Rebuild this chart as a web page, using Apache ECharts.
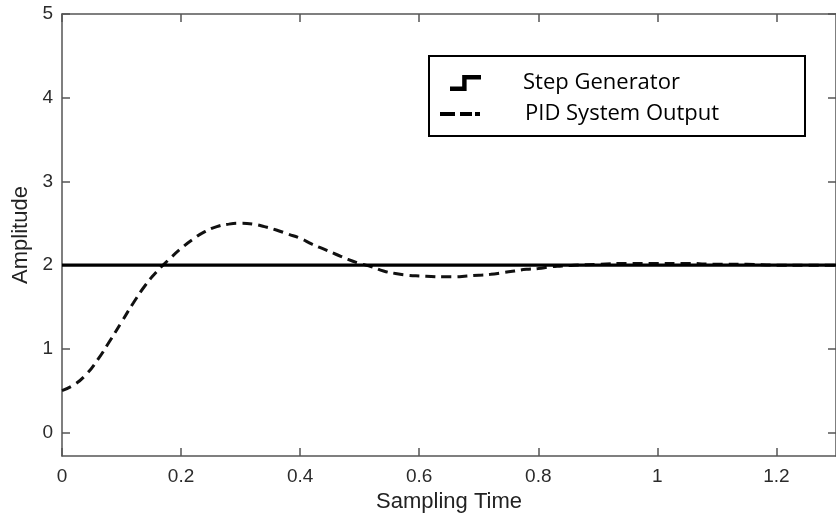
<!DOCTYPE html>
<html>
<head>
<meta charset="utf-8">
<title>PID response</title>
<script src="https://cdn.jsdelivr.net/npm/echarts@6/dist/echarts.min.js"></script>
<style>
  html, body { margin: 0; padding: 0; background: #fff; }
  #main { width: 836px; height: 524px; }
</style>
</head>
<body>
<div id="main"></div>
<script>
// values
var seriesNames = ['Step Generator', 'PID System Output'];
var stepTimes = [0, 1.3];
var stepValues = [2, 2];
var pidTimes = [0, 0.02, 0.04, 0.06, 0.08, 0.10, 0.12, 0.14, 0.16, 0.18,
                0.20, 0.22, 0.24, 0.26, 0.28, 0.30, 0.32, 0.34, 0.36, 0.38,
                0.40, 0.42, 0.44, 0.46, 0.48, 0.50, 0.52, 0.54, 0.56, 0.58,
                0.60, 0.62, 0.64, 0.66, 0.68, 0.70, 0.72, 0.74, 0.76, 0.78,
                0.80, 0.82, 0.84, 0.86, 0.90, 0.95, 1.00, 1.05, 1.10, 1.15,
                1.20, 1.25, 1.30];
var pidValues = [0.50, 0.57, 0.69, 0.87, 1.09, 1.32, 1.55, 1.76, 1.93, 2.07,
                 2.20, 2.31, 2.40, 2.46, 2.49, 2.50, 2.49, 2.46, 2.42, 2.37,
                 2.32, 2.25, 2.19, 2.13, 2.07, 2.02, 1.98, 1.93, 1.90, 1.88,
                 1.87, 1.865, 1.86, 1.86, 1.87, 1.88, 1.89, 1.91, 1.93, 1.95,
                 1.96, 1.98, 1.99, 2.00, 2.01, 2.02, 2.02, 2.02, 2.01, 2.01,
                 2.00, 2.00, 2.00];
var xTicks = [0, 0.2, 0.4, 0.6, 0.8, 1, 1.2];
var yTicks = [0, 1, 2, 3, 4, 5];

function pairs(xs, ys) {
    var out = [];
    for (var i = 0; i < xs.length; i++) {
        out.push([xs[i], ys[i]]);
    }
    return out;
}

var axisColor = '#555';
var labelColor = '#2b2b2b';
var stepIcon = 'path://M0,10H11V0H28V4H15V14H0Z';
var dashIcon = 'path://M0,0H15V4H0Z M20,0H32V4H20Z M35,0H40V4H35Z';

function xAxisCfg(pos, showLabel) {
    return {
        type: 'value',
        position: pos,
        min: 0,
        max: 1.3,
        name: showLabel ? 'Sampling Time' : '',
        nameLocation: 'middle',
        nameGap: 24,
        nameTextStyle: { fontFamily: 'Liberation Sans', fontSize: 22, color: '#222' },
        axisLine: { show: true, onZero: false, lineStyle: { color: axisColor, width: 1.5 } },
        axisTick: { show: true, inside: true, length: 8, customValues: xTicks,
                    lineStyle: { color: axisColor, width: 1.5 } },
        axisLabel: { show: showLabel, customValues: xTicks, margin: 11,
                     fontFamily: 'Liberation Sans', fontSize: 19, color: labelColor },
        splitLine: { show: false }
    };
}

function yAxisCfg(pos, showLabel) {
    return {
        type: 'value',
        position: pos,
        min: -0.28,
        max: 5,
        name: showLabel ? 'Amplitude' : '',
        nameLocation: 'middle',
        nameGap: 30,
        nameTextStyle: { fontFamily: 'Liberation Sans', fontSize: 22, color: '#222' },
        axisLine: { show: true, onZero: false, lineStyle: { color: axisColor, width: 1.5 } },
        axisTick: { show: true, inside: true, length: 8, customValues: yTicks,
                    lineStyle: { color: axisColor, width: 1.5 } },
        axisLabel: { show: showLabel, customValues: yTicks, margin: 9,
                     fontFamily: 'Liberation Sans', fontSize: 19, color: labelColor },
        splitLine: { show: false }
    };
}

var legendText = { fontFamily: 'Open Sans', fontSize: 22, color: '#000' };

var option = {
    animation: false,
    backgroundColor: '#fff',
    grid: { left: 62, top: 14, right: -3, bottom: 68, containLabel: false },
    xAxis: [xAxisCfg('bottom', true), xAxisCfg('top', false)],
    yAxis: [yAxisCfg('left', true), yAxisCfg('right', false)],
    legend: [
        {
            data: [{ name: seriesNames[0], icon: stepIcon, itemStyle: { color: '#000', borderWidth: 0 } }],
            left: 450, top: 72, padding: 0,
            itemWidth: 31, itemHeight: 16,
            symbolKeepAspect: false,
            selectedMode: false,
            textStyle: Object.assign({ padding: [0, 0, 0, 37] }, legendText)
        },
        {
            data: [{ name: seriesNames[1], icon: dashIcon, itemStyle: { color: '#000', borderWidth: 0 } }],
            left: 440, top: 103, padding: 0,
            itemWidth: 40, itemHeight: 4,
            symbolKeepAspect: false,
            selectedMode: false,
            textStyle: Object.assign({ padding: [0, 0, 0, 40] }, legendText)
        }
    ],
    graphic: [{
        type: 'rect',
        left: 428, top: 55,
        shape: { width: 376, height: 80 },
        style: { fill: 'rgba(0,0,0,0)', stroke: '#000', lineWidth: 2 },
        z: 100
    }],
    series: [
        {
            name: seriesNames[0],
            type: 'line',
            xAxisIndex: 0, yAxisIndex: 0,
            showSymbol: false,
            color: '#000',
            lineStyle: { color: '#000', width: 3.2 },
            data: pairs(stepTimes, stepValues),
            z: 3
        },
        {
            name: seriesNames[1],
            type: 'line',
            xAxisIndex: 0, yAxisIndex: 0,
            showSymbol: false,
            smooth: true,
            color: '#000',
            lineStyle: { color: '#111', width: 3, type: [10, 6] },
            data: pairs(pidTimes, pidValues),
            z: 2
        }
    ]
};

var chart = echarts.init(document.getElementById('main'), null, { renderer: 'canvas' });
chart.setOption(option);
</script>
</body>
</html>
